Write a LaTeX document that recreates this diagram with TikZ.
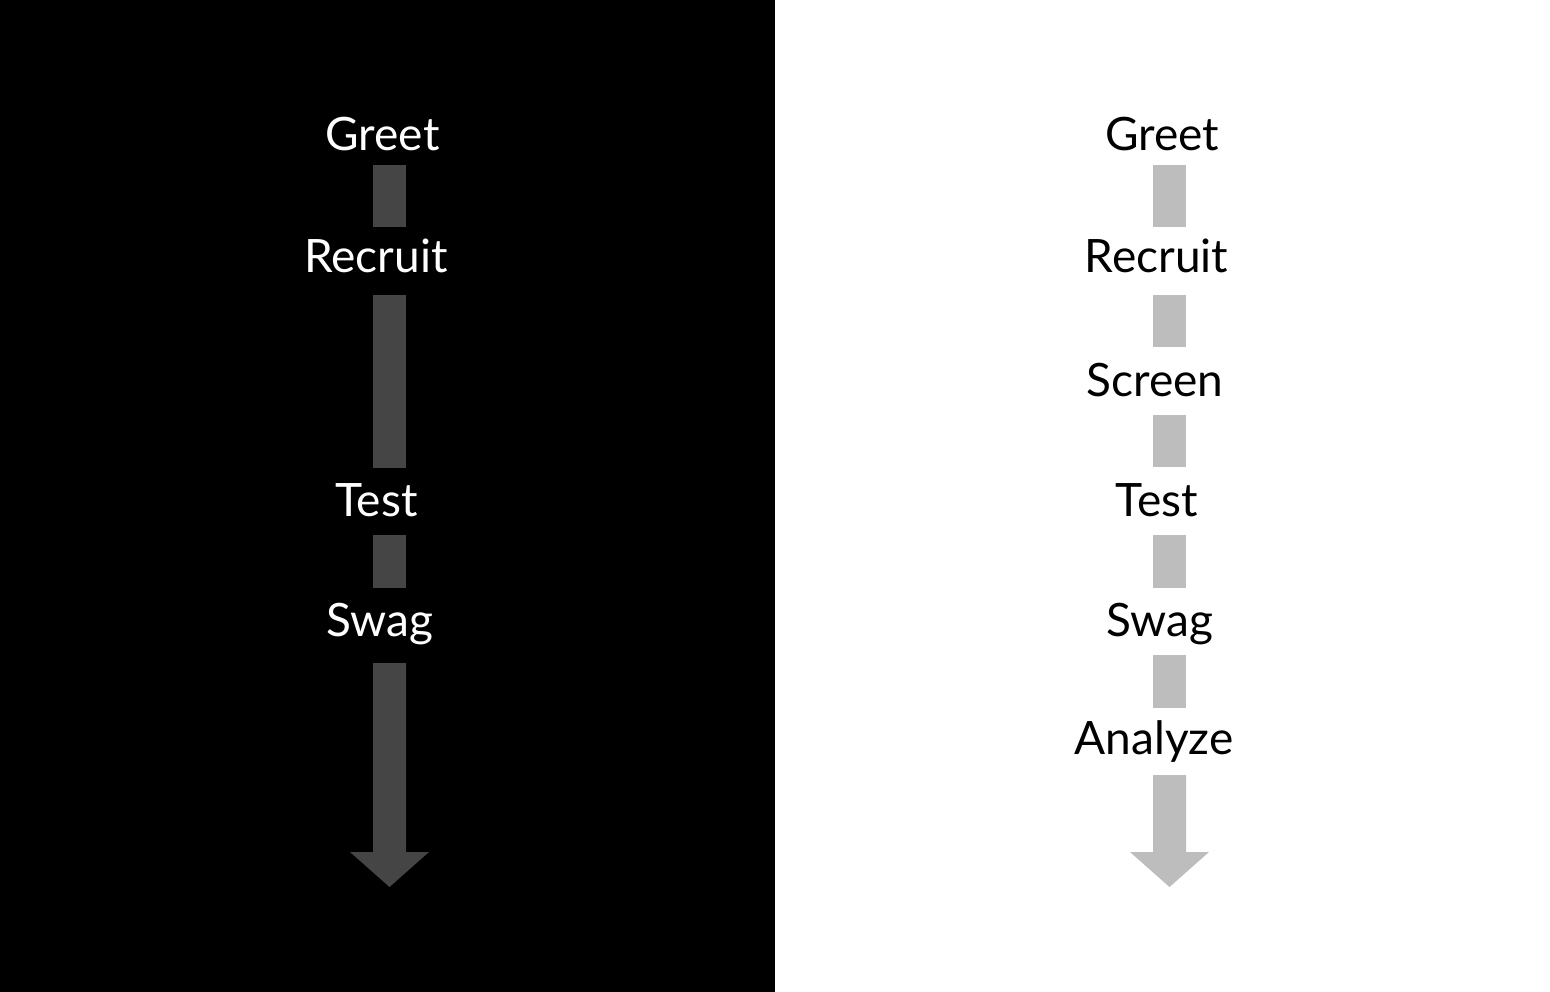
\documentclass[tikz,border=0pt]{standalone}
\usepackage{fontspec}
\setmainfont{Lato}
\definecolor{darkbar}{HTML}{454545}
\definecolor{lightbar}{HTML}{BDBDBD}
\begin{document}
\begin{tikzpicture}[x=1pt,y=-1pt,
  lbl/.style={anchor=base,inner sep=0pt,font=\fontsize{46}{50}\selectfont},
  wlbl/.style={lbl,text=white},
  blbl/.style={lbl,text=black},
  darkfill/.style={fill=darkbar},
  lightfill/.style={fill=lightbar}]
\useasboundingbox (0,0) rectangle (1550,992);
\fill[black] (0,0) rectangle (775,992);
\fill[white] (775,0) rectangle (1550,992);
% left column
\node[wlbl] (lg) at (382.5,151) {Greet};
\node[wlbl] (lr) at (376,273) {Recruit};
\node[wlbl] (lt) at (376.5,516) {Test};
\node[wlbl] (ls) at (380,636) {Swag};
\fill[darkfill] (373,165) rectangle (406,227);
\fill[darkfill] (373,295) rectangle (406,468);
\fill[darkfill] (373,535) rectangle (406,588);
\fill[darkfill] (373,663) -- (406,663) -- (406,852) -- (429,852) -- (389.5,887) -- (350,852) -- (373,852) -- cycle;
% right column
\node[blbl] (rg) at (1162,151) {Greet};
\node[blbl] (rr) at (1156.5,273) {Recruit};
\node[blbl] (rsc) at (1155,396) {Screen};
\node[blbl] (rt) at (1156.5,516) {Test};
\node[blbl] (rs) at (1159.5,636) {Swag};
\node[blbl] (ra) at (1154,754) {Analyze};
\fill[lightfill] (1153,165) rectangle (1186,227);
\fill[lightfill] (1153,295) rectangle (1186,347);
\fill[lightfill] (1153,415) rectangle (1186,467);
\fill[lightfill] (1153,535) rectangle (1186,588);
\fill[lightfill] (1153,655) rectangle (1186,708);
\fill[lightfill] (1153,775) -- (1186,775) -- (1186,852) -- (1209,852) -- (1169.5,887) -- (1130,852) -- (1153,852) -- cycle;
\end{tikzpicture}
\end{document}
